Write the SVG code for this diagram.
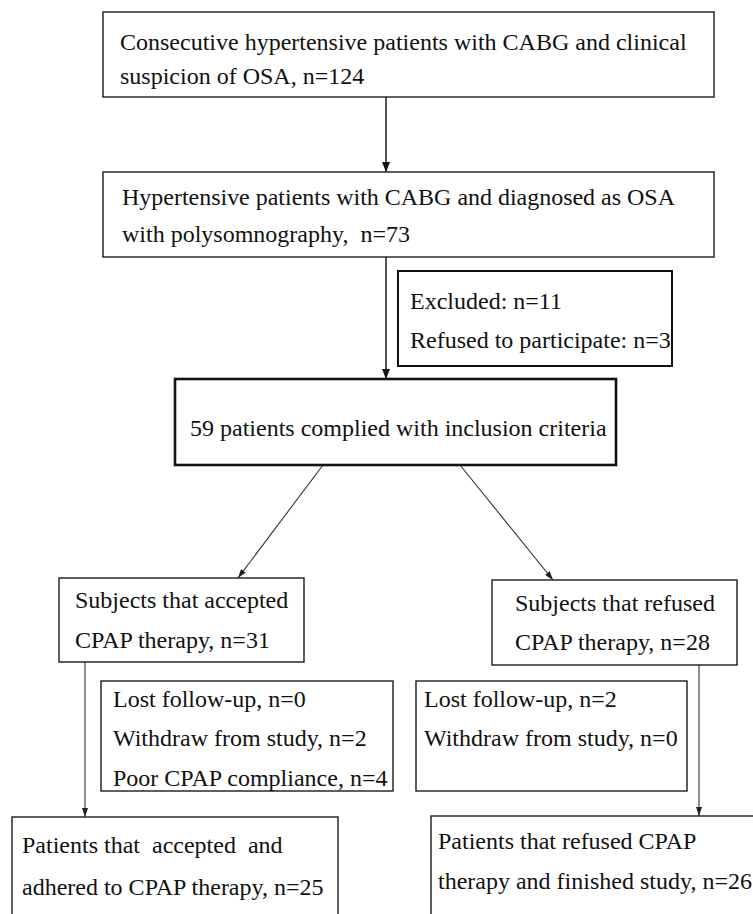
<svg xmlns="http://www.w3.org/2000/svg" width="753" height="914" viewBox="0 0 753 914">
<defs>
<style>
.bx{fill:#fff;stroke:#1c1c1c;stroke-width:1.4}
.bx2{fill:#fff;stroke:#111;stroke-width:2}
.bx3{fill:#fff;stroke:#111;stroke-width:2.6}
text{font-family:"Liberation Serif","Times New Roman",serif;font-size:24px;fill:#111}
.cn{stroke:#1c1c1c;stroke-width:1.5;fill:none}
.cn2{stroke:#333;stroke-width:1.1;fill:none}
</style>
<marker id="ah" markerUnits="userSpaceOnUse" markerWidth="10" markerHeight="8" refX="10" refY="4" orient="auto">
<path d="M0,0 L10,4 L0,8 z" fill="#111"/>
</marker>
<marker id="ah2" markerUnits="userSpaceOnUse" markerWidth="9" markerHeight="6" refX="9" refY="3" orient="auto">
<path d="M0,0 L9,3 L0,6 z" fill="#222"/>
</marker>
</defs>
<rect width="753" height="914" fill="#fff"/>
<g id="connectors">
<line class="cn" x1="386" y1="97" x2="386" y2="172" marker-end="url(#ah)"/>
<line class="cn" x1="386" y1="257" x2="386" y2="379" marker-end="url(#ah)"/>
<line class="cn2" x1="323" y1="465" x2="238" y2="578" marker-end="url(#ah2)"/>
<line class="cn2" x1="460" y1="465" x2="553" y2="580" marker-end="url(#ah2)"/>
<line class="cn2" x1="85" y1="662" x2="85" y2="817" marker-end="url(#ah2)"/>
<line class="cn2" x1="699" y1="665" x2="699" y2="816" marker-end="url(#ah2)"/>
</g>
<g id="n1">
<rect class="bx" x="103" y="12" width="611" height="85"/>
<text x="120" y="50">Consecutive hypertensive patients with CABG and clinical</text>
<text x="120" y="84">suspicion of OSA, n=124</text>
</g>
<g id="n2">
<rect class="bx" x="103" y="172" width="611" height="85"/>
<text x="122" y="205" textLength="553" lengthAdjust="spacing">Hypertensive patients with CABG and diagnosed as OSA</text>
<text x="122" y="242" xml:space="preserve">with polysomnography,  n=73</text>
</g>
<g id="n3">
<rect class="bx2" x="398" y="271" width="274" height="95"/>
<text x="410" y="309">Excluded: n=11</text>
<text x="410" y="348">Refused to participate: n=3</text>
</g>
<g id="n4">
<rect class="bx3" x="175" y="379" width="441" height="86"/>
<text x="190" y="436">59 patients complied with inclusion criteria</text>
</g>
<g id="n5">
<rect class="bx" x="59" y="578" width="245" height="84"/>
<text x="75" y="608">Subjects that accepted</text>
<text x="75" y="648">CPAP therapy, n=31</text>
</g>
<g id="n6">
<rect class="bx" x="492" y="580" width="245" height="85"/>
<text x="515" y="611">Subjects that refused</text>
<text x="515" y="650">CPAP therapy, n=28</text>
</g>
<g id="n7">
<rect class="bx" x="101" y="681" width="292" height="110"/>
<text x="113" y="707">Lost follow-up, n=0</text>
<text x="113" y="746">Withdraw from study, n=2</text>
<text x="113" y="786">Poor CPAP compliance, n=4</text>
</g>
<g id="n8">
<rect class="bx" x="416" y="681" width="271" height="110"/>
<text x="424" y="707">Lost follow-up, n=2</text>
<text x="424" y="746">Withdraw from study, n=0</text>
</g>
<g id="n9">
<rect class="bx" x="12" y="817" width="326" height="120"/>
<text x="22" y="853" xml:space="preserve">Patients that  accepted  and</text>
<text x="22" y="895">adhered to CPAP therapy, n=25</text>
</g>
<g id="n10">
<rect class="bx" x="431" y="816" width="340" height="120"/>
<text x="438" y="849">Patients that refused CPAP</text>
<text x="438" y="889">therapy and finished study, n=26</text>
</g>
</svg>
